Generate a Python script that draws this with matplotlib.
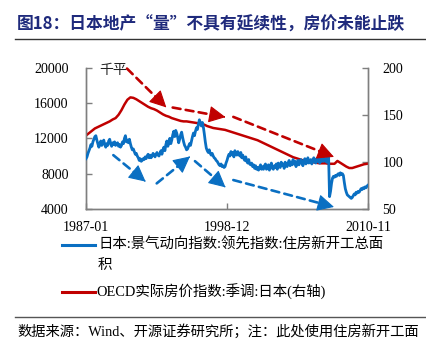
import matplotlib
matplotlib.use("Agg")
import matplotlib.pyplot as plt
from matplotlib.lines import Line2D
import numpy as np

plt.rcParams['font.family'] = ['Liberation Serif', 'Noto Sans CJK SC', 'DejaVu Sans']

# ---------------- data ----------------
tick_pos = [0, 143, 286]
tick_labels = ['1987-01', '1998-12', '2010-11']
left_ticks = [4000, 8000, 12000, 16000, 20000]
right_ticks = [50, 100, 150, 200]

# monthly housing starts floor area (千平), 1987-01 .. 2010-11
starts = [
    # 1987
    9700, 9900, 10300, 10600, 10900, 11300, 11100, 11600, 11900, 12200, 12300, 11800,
    # 1988
    11400, 11000, 11300, 11700, 11200, 11500, 11800, 11300, 11000, 11400, 11200, 11700,
    # 1989
    11900, 11400, 11100, 11500, 11300, 11600, 11200, 11400, 11500, 11100, 11300, 11000,
    # 1990
    11200, 11600, 11400, 12000, 12300, 11600, 11800, 11500, 11900, 11400, 11000, 10700,
    # 1991
    10800, 10500, 10200, 10300, 10000, 9800, 9500, 9700, 9400, 9500, 9700, 9600,
    # 1992
    9900, 9700, 10000, 10200, 9800, 10100, 9800, 10000, 10300, 10100, 9900, 10200,
    # 1993
    10400, 10100, 10000, 10300, 10600, 10200, 10700, 11000, 10600, 11300, 11700, 11100,
    # 1994
    11500, 12000, 11400, 11800, 12400, 12800, 12200, 12900, 12600, 12100, 11500, 11900,
    # 1995
    12400, 12700, 12100, 11600, 11200, 11000, 10700, 10800, 11100, 11400, 11200, 11700,
    # 1996
    12200, 12600, 12300, 12800, 13200, 13000, 13600, 14100, 13700, 13400, 13800, 13300,
    # 1997
    12500, 11600, 10900, 10600, 10400, 10700, 10300, 10100, 10300, 10000, 9800, 9700,
    # 1998
    9500, 9400, 9200, 9000, 8900, 9100, 8800, 8900, 8700, 8800, 9200, 9500,
    # 1999
    9900, 10200, 10000, 10500, 10200, 10400, 9900, 10600, 10300, 10100, 10500, 10200,
    # 2000
    10000, 10400, 9800, 10100, 9700, 9500, 9900, 9400, 9200, 9600, 9100, 9000,
    # 2001
    9200, 8800, 9000, 8600, 8900, 8500, 8700, 8400, 8700, 9000, 8500, 8800,
    # 2002
    8500, 8900, 9100, 8500, 8600, 9000, 8400, 8800, 9200, 8600, 8500, 8900,
    # 2003
    8700, 9100, 8500, 9200, 8800, 8700, 9300, 8900, 9100, 8600, 9300, 9000,
    # 2004
    8800, 9200, 9500, 8900, 9300, 9000, 9600, 9100, 9400, 8800, 9200, 9500,
    # 2005
    9000, 9400, 9600, 9200, 8900, 9500, 9700, 9100, 9300, 9800, 9200, 9400,
    # 2006
    9600, 9100, 9500, 9800, 9300, 9200, 9700, 9400, 9900, 9200, 9600, 9400,
    # 2007
    9700, 9400, 9800, 9500, 9300, 9900, 10100, 5400, 6000, 6900, 7500, 7700,
    # 2008
    7600, 7800, 7700, 7900, 8000, 7800, 8100, 7900, 8000, 7800, 7000, 6300,
    # 2009
    5900, 5600, 5500, 5400, 5300, 5200, 5300, 5500, 5700, 5600, 5900, 5800,
    # 2010
    6000, 5900, 6100, 6300, 6200, 6400, 6300, 6500, 6400, 6600, 6700,
]

# quarterly OECD real house price index (right axis), 1987Q1 .. 2010Q4
price = [
    128, 130.5, 133, 135.5, 137, 138.5, 140, 141.5,
    143, 145, 146.5, 150, 155, 161, 166, 168.5,
    168, 166.5, 164.5, 162.5, 160.5, 158.5, 157, 156,
    154.5, 152.5, 150.5, 149, 148, 146.5, 145.5, 144.5,
    143.5, 143, 143, 142.5, 142, 141.5, 141, 140.5,
    139.5, 138, 137, 136, 135.5, 135, 134.5, 134,
    133, 132, 131, 130, 129, 128, 127, 126,
    125, 124, 123, 121.5, 120, 118.5, 117, 115.5,
    114, 112.5, 111, 109.5, 108, 106.5, 105, 104,
    103, 102, 101, 100.5, 100, 99.5, 99, 98.5,
    98.5, 98.5, 98, 98, 98, 101, 99, 97,
    95, 93.5, 93.5, 94.5, 95.5, 96.5, 97.5, 98,
]

x_starts = np.arange(len(starts))
x_price = np.arange(len(price)) * 3

BLUE = '#0a6fc2'
RED = '#c00000'
NAVY = '#1f2a7c'
SPINE = '#7f7f7f'

fig = plt.figure(figsize=(4.26, 3.46), dpi=100)
ax = fig.add_axes([86/426, 1-209/346, (368-86)/426, (209-67.7)/346])
ax2 = ax.twinx()

ax.plot(x_starts, starts, color=BLUE, lw=2.0, solid_joinstyle='round', zorder=3)
ax2.plot(x_price, price, color=RED, lw=1.8, zorder=3)

ax.set_xlim(0, 286)
ax.set_ylim(4000, 20000)
ax2.set_ylim(50, 200)
ax.set_xticks(tick_pos)
ax.set_xticklabels(tick_labels)
ax.set_yticks(left_ticks)
ax2.set_yticks(right_ticks)

for a in (ax, ax2):
    a.spines['top'].set_visible(False)
    for s in ('left', 'right', 'bottom'):
        a.spines[s].set_color(SPINE)
        a.spines[s].set_linewidth(1.0)
    a.tick_params(direction='in', length=4, width=1, color=SPINE,
                  labelsize=10)
ax.tick_params(axis='x', pad=9)
ax.tick_params(axis='y', pad=12.5)
ax2.tick_params(axis='y', pad=10.5)
ax.set_zorder(ax2.get_zorder() + 1)
ax.patch.set_visible(False)

# dashed trend arrows (data coords of left axis)
red_arrows = [((41.6, 19900), (81.5, 15500)),
              ((87.9, 15490), (141.5, 14400)),
              ((149.4, 14430), (251.5, 9900))]
blue_arrows = [((27.7, 10100), (60.5, 7100)),
               ((71.7, 6900), (105.5, 9950)),
               ((110.5, 9420), (141.5, 6450)),
               ((149.4, 7280), (251.5, 4230))]


def dashed_arrow(s, e, color):
    # dashed shaft
    ax.annotate('', xy=e, xytext=s,
                arrowprops=dict(arrowstyle='-', color=color, lw=1.9,
                                linestyle=(0, (3, 2)), shrinkA=0, shrinkB=3),
                zorder=4)
    # solid head
    p = (s[0] + (e[0] - s[0]) * 0.97, s[1] + (e[1] - s[1]) * 0.97)
    ax.annotate('', xy=e, xytext=p,
                arrowprops=dict(arrowstyle='-|>,head_length=0.75,head_width=0.38',
                                color=color, lw=0.8, mutation_scale=14,
                                shrinkA=0, shrinkB=0),
                zorder=4)


for (s, e) in red_arrows:
    dashed_arrow(s, e, RED)
for (s, e) in blue_arrows:
    dashed_arrow(s, e, BLUE)

ax.text(27.7, 19750, '千平', ha='center', va='center', fontsize=10,
        family=['Noto Sans CJK SC'], color='#222222')

# title and rules
fig.text(17/426, 1-25/346, '图18：日本地产“量”不具有延续性，房价未能止跌',
         fontsize=12.1, fontweight='bold', color=NAVY, ha='left', va='center',
         family=['Noto Sans CJK SC'])
fig.add_artist(Line2D([15/426, 1.0], [1-39/346, 1-39/346], color='#333333', lw=1.0))
fig.add_artist(Line2D([15/426, 1.0], [1-317/346, 1-317/346], color='#555555', lw=1.0))

# legend
fig.add_artist(Line2D([62/426, 95/426], [1-245/346, 1-245/346], color=BLUE, lw=2.2))
fig.text(98/426, 1-245/346, '日本:景气动向指数:领先指数:住房新开工总面',
         fontsize=10.4, ha='left', va='center')
fig.text(98/426, 1-265/346, '积', fontsize=10.4, ha='left', va='center')
fig.add_artist(Line2D([62/426, 95/426], [1-292/346, 1-292/346], color=RED, lw=2.2))
fig.text(96/426, 1-292/346, 'OECD实际房价指数:季调:日本(右轴)',
         fontsize=10.4, ha='left', va='center')

fig.text(17/426, 1-331/346, '数据来源：Wind、开源证券研究所；注：此处使用住房新开工面',
         fontsize=10.3, ha='left', va='center')

fig.savefig('out.png', dpi=100)
